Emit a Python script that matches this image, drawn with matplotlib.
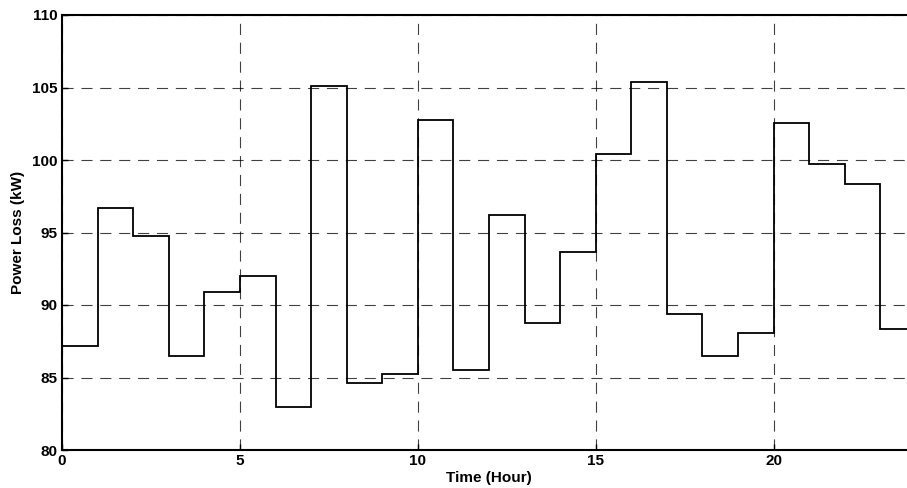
import numpy as np
import matplotlib
matplotlib.use("Agg")
import matplotlib.pyplot as plt

plt.rcParams['font.family'] = ['Liberation Sans', 'DejaVu Sans']

hours = list(range(25))  # hour edges 0..24
power_loss = [87.17, 96.71, 94.74, 86.48, 90.92, 92.02, 82.94, 105.1,
              84.60, 85.26, 102.76, 85.54, 96.21, 88.78, 93.66, 100.44,
              105.4, 89.36, 86.48, 88.09, 102.57, 99.72, 98.34, 88.37]
x_ticks = [0, 5, 10, 15, 20]
y_ticks = [80, 85, 90, 95, 100, 105, 110]

fig = plt.figure(figsize=(9.07, 4.88), dpi=100)
ax = fig.add_axes([62/907, 38/488, (916-62)/907, (450-15)/488])

ax.stairs(power_loss, hours, baseline=None, color='black', linewidth=1.3)

ax.set_xlim(0, 24)
ax.set_ylim(80, 110)
ax.set_xticks(x_ticks)
ax.set_yticks(y_ticks)
ax.set_xticklabels([str(t) for t in x_ticks], fontsize=11, fontweight='bold')
ax.set_yticklabels([str(t) for t in y_ticks], fontsize=11, fontweight='bold')
ax.tick_params(direction='in', length=4, width=1, pad=3)
ax.grid(True, color='black', linestyle=(0, (10, 7)), linewidth=0.8, alpha=0.75)
for s in ax.spines.values():
    s.set_linewidth(1.5)

ax.set_xlabel('Time (Hour)', fontsize=11, fontweight='bold', labelpad=2)
ax.set_ylabel('Power Loss (kW)', fontsize=11, fontweight='bold', labelpad=5)

fig.savefig('out.png', dpi=100)
